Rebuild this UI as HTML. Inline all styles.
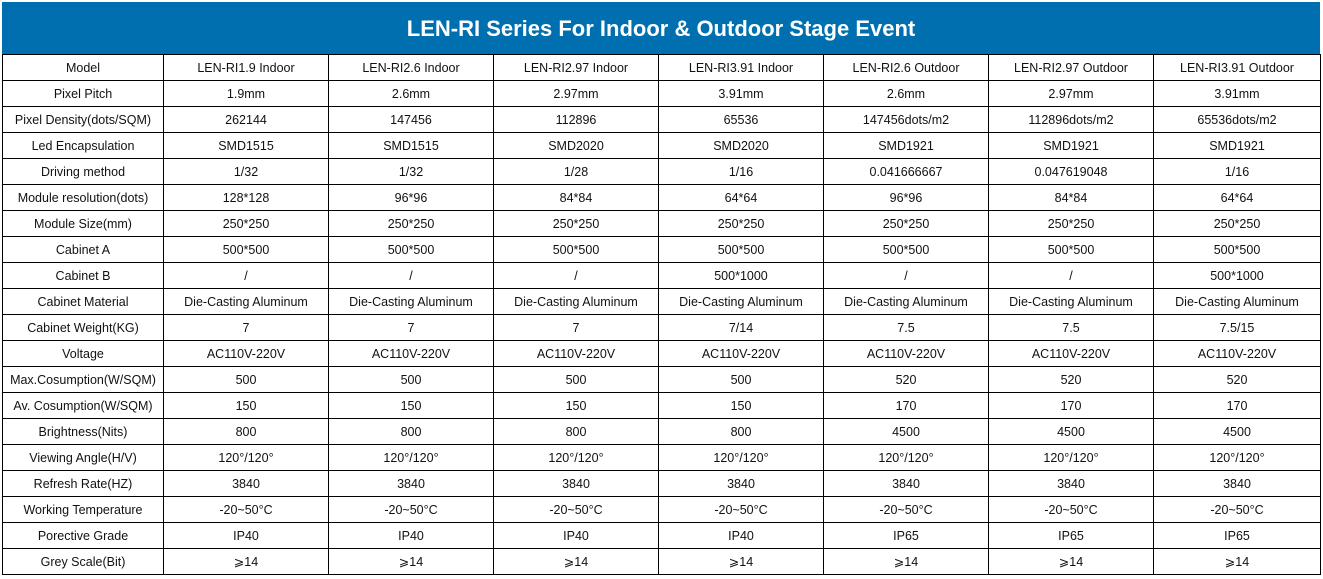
<!DOCTYPE html>
<html><head><meta charset="utf-8"><style>
body{margin:0;width:1323px;height:579px;background:#fff;overflow:hidden;font-family:"Liberation Sans",Arial,sans-serif;}
#title{position:absolute;left:2px;top:2px;width:1318px;height:52px;background:#006fb0;color:#fff;font-weight:bold;font-size:22px;line-height:54px;text-align:center;}
table{position:absolute;left:2px;top:54px;border-collapse:collapse;table-layout:fixed;width:1319px;}
td{border:1px solid #000;height:25px;padding:0;text-align:center;font-size:12.5px;color:#111;white-space:nowrap;overflow:hidden;}
</style></head><body>
<div id="title">LEN-RI Series For Indoor &amp; Outdoor Stage Event</div>
<table>
<colgroup><col style="width:161px"><col style="width:165px"><col style="width:165px"><col style="width:165px"><col style="width:165px"><col style="width:165px"><col style="width:165px"><col style="width:167px"></colgroup>
<tbody id="tb"></tbody></table>
<script>
const rows=[
["Model","LEN-RI1.9 Indoor","LEN-RI2.6 Indoor","LEN-RI2.97 Indoor","LEN-RI3.91 Indoor","LEN-RI2.6 Outdoor","LEN-RI2.97 Outdoor","LEN-RI3.91 Outdoor"],
["Pixel Pitch","1.9mm","2.6mm","2.97mm","3.91mm","2.6mm","2.97mm","3.91mm"],
["Pixel Density(dots/SQM)","262144","147456","112896","65536","147456dots/m2","112896dots/m2","65536dots/m2"],
["Led Encapsulation","SMD1515","SMD1515","SMD2020","SMD2020","SMD1921","SMD1921","SMD1921"],
["Driving method","1/32","1/32","1/28","1/16","0.041666667","0.047619048","1/16"],
["Module resolution(dots)","128*128","96*96","84*84","64*64","96*96","84*84","64*64"],
["Module Size(mm)","250*250","250*250","250*250","250*250","250*250","250*250","250*250"],
["Cabinet A","500*500","500*500","500*500","500*500","500*500","500*500","500*500"],
["Cabinet B","/","/","/","500*1000","/","/","500*1000"],
["Cabinet Material","Die-Casting Aluminum","Die-Casting Aluminum","Die-Casting Aluminum","Die-Casting Aluminum","Die-Casting Aluminum","Die-Casting Aluminum","Die-Casting Aluminum"],
["Cabinet Weight(KG)","7","7","7","7/14","7.5","7.5","7.5/15"],
["Voltage","AC110V-220V","AC110V-220V","AC110V-220V","AC110V-220V","AC110V-220V","AC110V-220V","AC110V-220V"],
["Max.Cosumption(W/SQM)","500","500","500","500","520","520","520"],
["Av. Cosumption(W/SQM)","150","150","150","150","170","170","170"],
["Brightness(Nits)","800","800","800","800","4500","4500","4500"],
["Viewing Angle(H/V)","120°/120°","120°/120°","120°/120°","120°/120°","120°/120°","120°/120°","120°/120°"],
["Refresh Rate(HZ)","3840","3840","3840","3840","3840","3840","3840"],
["Working Temperature","-20~50°C","-20~50°C","-20~50°C","-20~50°C","-20~50°C","-20~50°C","-20~50°C"],
["Porective Grade","IP40","IP40","IP40","IP40","IP65","IP65","IP65"],
["Grey Scale(Bit)","⩾14","⩾14","⩾14","⩾14","⩾14","⩾14","⩾14"]];
const tb=document.getElementById('tb');
rows.forEach(r=>{const tr=document.createElement('tr');


r.forEach((c,i)=>{const td=document.createElement('td');td.textContent=c;


tr.appendChild(td);});tb.appendChild(tr);});
</script>
</body></html>
